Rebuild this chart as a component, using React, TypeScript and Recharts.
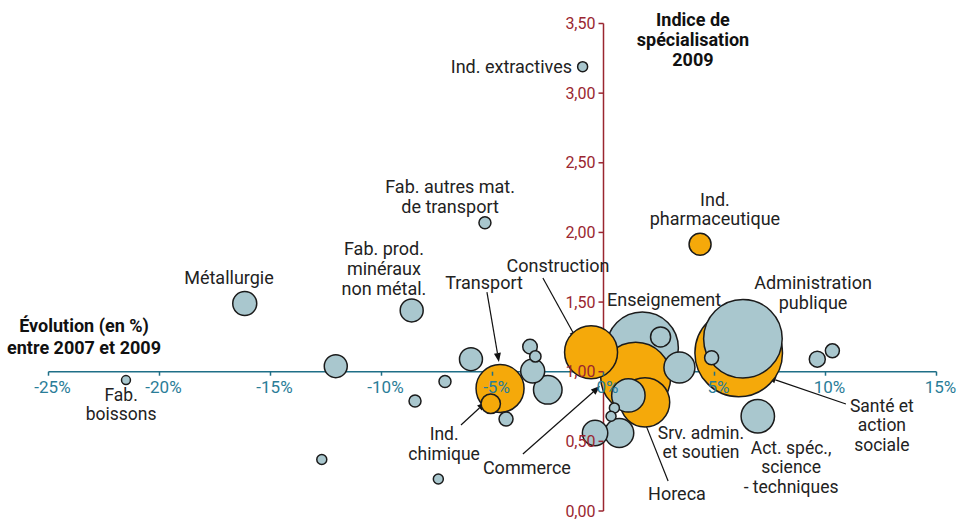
import React from 'react';
import {
  ScatterChart,
  Scatter,
  XAxis,
  YAxis,
  ZAxis,
  Cell,
  ReferenceLine,
  ReferenceDot,
} from 'recharts';

// sectors: growth of employment 2007-2009 (%), specialisation index 2009, bubble weight
const sectors = [
  'Ind. extractives', 'Fab. autres mat. de transport', 'Ind. pharmaceutique', 'Métallurgie',
  'Fab. prod. minéraux non métal.', 'Secteur A', 'Fab. boissons', 'Secteur B', 'Secteur C',
  'Secteur D', 'Secteur E', 'Secteur F', 'Transport', 'Ind. chimique', 'Secteur G',
  'Secteur H', 'Secteur I', 'Secteur J', 'Secteur K', 'Construction', 'Enseignement',
  'Secteur L', 'Commerce', 'Horeca', 'Srv. admin. et soutien', 'Secteur M', 'Secteur N',
  'Secteur O', 'Secteur P', 'Secteur Q', 'Administration publique', 'Santé et action sociale',
  'Secteur R', 'Secteur S', 'Secteur T', 'Act. spéc., science - techniques',
];
const growth = [
  -0.94, -5.34, 4.35, -16.16, -8.64, -12.06, -21.51, -7.14, -8.49, -12.69, -7.44, -5.97,
  -4.66, -5.08, -4.39, -3.31, -3.07, -3.19, -2.51, -0.56, 1.75, 2.57, 1.45, 1.87, 1.12,
  3.42, 0.49, 0.34, -0.38, 0.71, 6.28, 6.09, 4.87, 9.63, 10.31, 6.95,
];
const specIndex = [
  3.19, 2.07, 1.915, 1.49, 1.44, 1.04, 0.94, 0.93, 0.79, 0.37, 0.23, 1.09, 0.88, 0.77,
  0.66, 1.18, 1.11, 1.005, 0.87, 1.14, 1.17, 1.25, 0.96, 0.78, 0.83, 1.03, 0.74, 0.68,
  0.56, 0.56, 1.237, 1.135, 1.1, 1.09, 1.15, 0.68,
];
const weight = [
  25, 36, 121, 144, 132, 132, 20, 36, 36, 25, 25, 132, 576, 94, 49, 53, 32, 144, 204,
  702, 1296, 100, 1225, 610, 279, 240, 25, 25, 161, 210, 1544, 1918, 49, 64, 49, 279,
];
const highlighted = [
  false, false, true, false, false, false, false, false, false, false, false, false,
  true, true, false, false, false, false, false, true, false, false, true, true, false,
  false, false, false, false, false, false, true, false, false, false, false,
];

const xTicks = [-25, -20, -15, -10, -5, 0, 5, 10, 15];
const yTicks = [0, 0.5, 1, 1.5, 2, 2.5, 3, 3.5];

const points = sectors
  .map((name, i) => ({
    name,
    x: growth[i],
    y: specIndex[i],
    z: weight[i],
    hi: highlighted[i],
  }))
  .sort((a, b) => b.z - a.z);

// annotation text, anchored in data coordinates
const labels = [
  { lines: ['Ind. extractives'], x: -1.42, y: 3.19, anchor: 'end' },
  { lines: ['Indice de', 'spécialisation', '2009'], x: 4.03, y: 3.53, gap: 20, bold: true },
  { lines: ['Fab. autres mat.', 'de transport'], x: -6.91, y: 2.333, gap: 20 },
  { lines: ['Ind.', 'pharmaceutique'], x: 5.02, y: 2.24, gap: 19 },
  { lines: ['Fab. prod.', 'minéraux', 'non métal.'], x: -9.89, y: 1.888, gap: 20 },
  { lines: ['Métallurgie'], x: -16.87, y: 1.68 },
  { lines: ['Transport'], x: -5.38, y: 1.637 },
  { lines: ['Construction'], x: -2.05, y: 1.759 },
  { lines: ['Enseignement'], x: 2.73, y: 1.522 },
  { lines: ['Administration', 'publique'], x: 9.44, y: 1.644, gap: 20 },
  { lines: ['Évolution (en %)', 'entre 2007 et 2009'], x: -23.4, y: 1.335, gap: 22, bold: true },
  { lines: ['Fab.', 'boissons'], x: -21.73, y: 0.833, gap: 19.3, size: 17.5 },
  { lines: ['Ind.', 'chimique'], x: -7.18, y: 0.551, gap: 19.3, size: 17.5 },
  { lines: ['Commerce'], x: -3.45, y: 0.309 },
  { lines: ['Srv. admin.', 'et soutien'], x: 4.39, y: 0.562, gap: 19.3, size: 17.5 },
  { lines: ['Horeca'], x: 3.31, y: 0.129 },
  { lines: ['Act. spéc.,', 'science', '- techniques'], x: 8.45, y: 0.452, gap: 19.3, size: 17.5 },
  { lines: ['Santé et', 'action', 'sociale'], x: 12.54, y: 0.754, gap: 19.3, size: 17.5 },
];

const arrows = [
  { from: [-5.25, 1.572], to: [-4.71, 1.07] },
  { from: [-2.73, 1.673], to: [-1.19, 1.228] },
  { from: [-6.42, 0.617], to: [-5.29, 0.783] },
  { from: [-3.63, 0.409], to: [-0.16, 0.897] },
  { from: [2.91, 0.215], to: [1.55, 0.761] },
  { from: [10.92, 0.768], to: [7.36, 0.962] },
];

const W = 961;
const H = 519;
const M = { top: 23.5, right: 24.5, bottom: 8, left: 48.5 };
const X_DOMAIN = [-25, 15];
const Y_DOMAIN = [0, 3.5];

const TEAL = '#1f6f87';
const TEAL_TEXT = '#2a7d98';
const RED = '#9a2630';
const BLUE = '#a9c7ce';
const ORANGE = '#f5a90a';
const INK = '#222';
const FONT = 'Roboto, sans-serif';

// x tick drawn on the horizontal axis (which crosses at index = 1)
function XTickMark({ cx, cy, value }: any) {
  if (cx == null || cy == null) return null;
  return (
    <g>
      <line x1={cx} x2={cx} y1={cy} y2={cy + 4} stroke={TEAL} strokeWidth={1.5} />
      <text
        x={cx + 4}
        y={cy + 15}
        textAnchor="middle"
        dominantBaseline="central"
        fill={TEAL_TEXT}
        fontSize={17}
        fontFamily={FONT}
      >
        {`${value}%`}
      </text>
    </g>
  );
}

// y tick drawn on the vertical axis (which crosses at growth = 0)
function YTickMark({ cx, cy, value }: any) {
  if (cx == null || cy == null) return null;
  return (
    <g>
      <line x1={cx - 5} x2={cx} y1={cy} y2={cy} stroke={RED} strokeWidth={1.5} />
      <text
        x={cx - 8}
        y={cy}
        textAnchor="end"
        dominantBaseline="central"
        fill={RED}
        fontSize={16}
        fontFamily={FONT}
      >
        {value.toFixed(2).replace('.', ',')}
      </text>
    </g>
  );
}

function MultiText({ cx, cy, item }: any) {
  if (cx == null || cy == null) return null;
  const gap = item.gap ?? 20;
  return (
    <text
      x={cx}
      y={cy}
      textAnchor={item.anchor ?? 'middle'}
      fill={item.bold ? '#111' : INK}
      fontSize={item.size ?? 18}
      fontWeight={item.bold ? 700 : 400}
      fontFamily={FONT}
    >
      {item.lines.map((line: string, i: number) => (
        <tspan key={i} x={cx} y={cy + i * gap} dominantBaseline="central">
          {line}
        </tspan>
      ))}
    </text>
  );
}

function Arrow({ x1, y1, x2, y2 }: any) {
  if ([x1, y1, x2, y2].some((v) => v == null || Number.isNaN(v))) return null;
  const ang = Math.atan2(y2 - y1, x2 - x1);
  const len = 9;
  const half = 3.5;
  const bx = x2 - len * Math.cos(ang);
  const by = y2 - len * Math.sin(ang);
  const px = -Math.sin(ang) * half;
  const py = Math.cos(ang) * half;
  return (
    <g>
      <line x1={x1} y1={y1} x2={bx} y2={by} stroke="#111" strokeWidth={1.2} />
      <polygon points={`${x2},${y2} ${bx + px},${by + py} ${bx - px},${by - py}`} fill="#111" />
    </g>
  );
}

export default function App() {
  return (
    <div style={{ position: 'absolute', left: 0, top: 0, background: '#fff', fontFamily: FONT }}>
      <ScatterChart width={W} height={H} margin={M} style={{ fontFamily: FONT }}>
        <XAxis type="number" dataKey="x" domain={X_DOMAIN} ticks={xTicks} hide allowDataOverflow />
        <YAxis type="number" dataKey="y" domain={Y_DOMAIN} ticks={yTicks} hide allowDataOverflow />
        <ZAxis type="number" dataKey="z" domain={[0, 2500]} range={[0, 2500 * Math.PI]} />
        <ReferenceLine y={1} stroke={TEAL} strokeWidth={1.5} />
        <ReferenceLine x={0} stroke={RED} strokeWidth={1.5} />
        <Scatter data={points} isAnimationActive={false} stroke="#1b1b1b" strokeWidth={1.5}>
          {points.map((p) => (
            <Cell key={p.name} fill={p.hi ? ORANGE : BLUE} />
          ))}
        </Scatter>
        {xTicks.map((t) => (
          <ReferenceDot
            key={`xt${t}`}
            x={t}
            y={1}
            r={0}
            ifOverflow="visible"
            shape={(p: any) => <XTickMark cx={p.cx} cy={p.cy} value={t} />}
          />
        ))}
        {yTicks.map((t) => (
          <ReferenceDot
            key={`yt${t}`}
            x={0}
            y={t}
            r={0}
            ifOverflow="visible"
            shape={(p: any) => <YTickMark cx={p.cx} cy={p.cy} value={t} />}
          />
        ))}
        {arrows.map((a, i) => (
          <ReferenceLine
            key={`ar${i}`}
            segment={[
              { x: a.from[0], y: a.from[1] },
              { x: a.to[0], y: a.to[1] },
            ]}
            ifOverflow="visible"
            shape={(p: any) => <Arrow {...p} />}
          />
        ))}
        {labels.map((l, i) => (
          <ReferenceDot
            key={`lb${i}`}
            x={l.x}
            y={l.y}
            r={0}
            ifOverflow="visible"
            shape={(p: any) => <MultiText cx={p.cx} cy={p.cy} item={l} />}
          />
        ))}
      </ScatterChart>
    </div>
  );
}
